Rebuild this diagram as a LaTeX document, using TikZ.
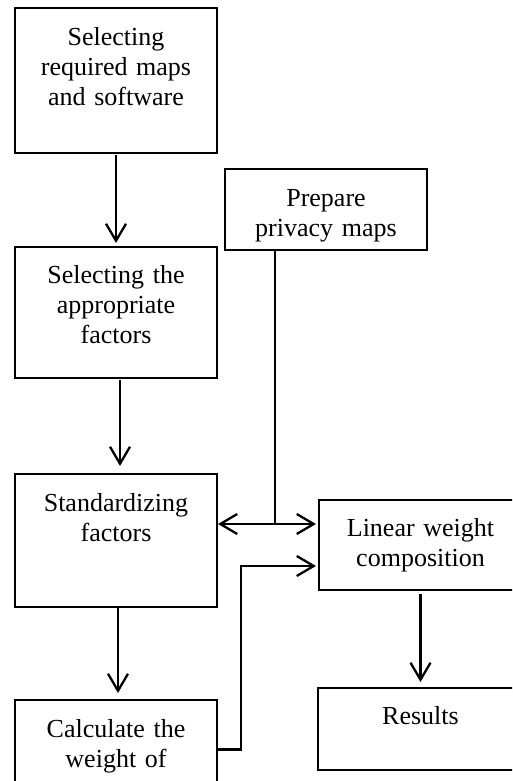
\documentclass[tikz,border=0pt]{standalone}
\usepackage{fontspec}
\setmainfont{Liberation Serif}
\usetikzlibrary{calc,arrows.meta}

\begin{document}
\begin{tikzpicture}[x=1pt,y=-1pt,
                    stage/.style={draw,line width=2.6pt,anchor=north west,outer sep=0pt,inner xsep=0pt,inner ysep=0pt,
                                  text width=202pt,align=center,font={\fontsize{26}{30}\selectfont}},
                    flow/.style={-{Straight Barb[length=17pt,width=20pt]},line width=2.3pt},
                    twoway/.style={{Straight Barb[length=17pt,width=20pt]}-{Straight Barb[length=17pt,width=20pt]},line width=2.3pt}]
            \path[use as bounding box,clip] (0,0) rectangle (512,781);

            \node[stage,text height=38pt,text depth=107pt] (maps) at (15,8) {
                Selecting\\required maps\\and software
            };
            \node[stage,text height=37pt,text depth=44pt] (privacy) at (225,169) {
                Prepare\\privacy maps
            };
            \node[stage,text height=36pt,text depth=95pt] (factors) at (15,247) {
                Selecting the\\appropriate\\factors
            };
            \node[stage,text height=37pt,text depth=96pt] (standard) at (15,474) {
                Standardizing\\factors
            };
            \node[stage,text height=36pt,text depth=54pt,text width=203pt] (linear) at (319,500) {
                Linear weight\\composition
            };
            \node[stage,text height=36pt,text depth=46pt,text width=205pt] (results) at (318,688) {
                Results
            };
            \node[stage,text height=37pt,text depth=62pt] (weight) at (15,700) {
                Calculate the\\weight of
            };

            \coordinate (split) at (275,524);
            \coordinate (bend) at (241,566);

            \draw[flow,shorten <=2pt,shorten >=4pt] (maps.south) -- (factors.north);
            \draw[flow,shorten <=2pt,shorten >=8pt] ($(factors.south)+(4,0)$) -- ($(standard.north)+(4,0)$);
            \draw[flow,shorten <=1pt,shorten >=7pt] ($(standard.south)+(2,0)$) -- ($(weight.north)+(2,0)$);
            \draw[flow,shorten <=4pt,shorten >=6pt] (linear.south) -- (results.north);

            \draw[line width=1.5pt] (privacy.south -| split) -- (split);
            \draw[twoway,shorten <=1pt,shorten >=3pt] (standard.east |- split) -- (linear.west |- split);
            \draw[flow,shorten >=3pt] (weight.east) -| (bend) -- (linear.west |- bend);
        \end{tikzpicture}
\end{document}
